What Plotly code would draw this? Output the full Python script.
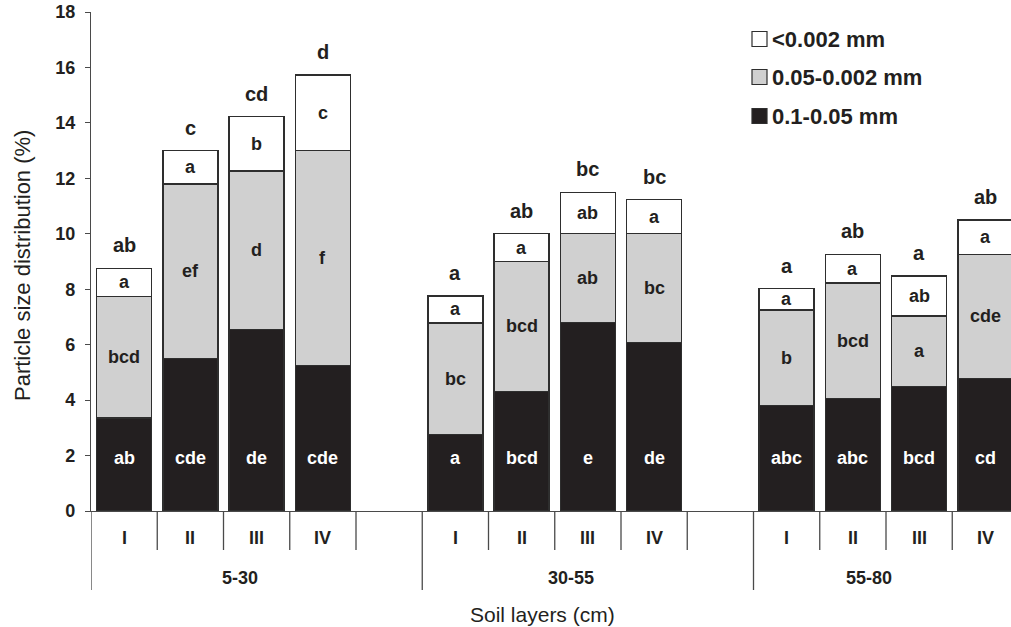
import plotly.graph_objects as go

# ---------------- data ----------------
groups = ["5-30", "30-55", "55-80"]
treatments = ["I", "II", "III", "IV"]

# 0.1-0.05 mm (black)
sand = [3.35, 5.50, 6.55, 5.25, 2.77, 4.32, 6.80, 6.07, 3.80, 4.05, 4.50, 4.78]
# 0.05-0.002 mm (grey)
silt = [4.40, 6.30, 5.72, 7.75, 4.01, 4.68, 3.20, 3.93, 3.45, 4.17, 2.53, 4.48]
# <0.002 mm (white)
clay = [1.00, 1.20, 1.96, 2.73, 0.98, 1.00, 1.50, 1.23, 0.77, 1.04, 1.45, 1.24]

sand_letters = ["ab", "cde", "de", "cde", "a", "bcd", "e", "de", "abc", "abc", "bcd", "cd"]
silt_letters = ["bcd", "ef", "d", "f", "bc", "bcd", "ab", "bc", "b", "bcd", "a", "cde"]
clay_letters = ["a", "a", "b", "c", "a", "a", "ab", "a", "a", "a", "ab", "a"]
total_letters = ["ab", "c", "cd", "d", "a", "ab", "bc", "bc", "a", "ab", "a", "ab"]

y_ticks = [0, 2, 4, 6, 8, 10, 12, 14, 16, 18]

# ---------------- layout constants ----------------
W, H = 1011, 627
L, R, T, B = 91, 0, 12, 116
PW, PH = W - L - R, H - T - B
SLOT = 66.25
X0 = -0.5
X1 = X0 + PW / SLOT

INK = "#231f20"
AX = "#4a4a4a"
FONT = "Liberation Sans, Arial, sans-serif"


def pxx(X):
    return (X - L) / PW


def pxy(Y):
    return (T + PH - Y) / PH


xs = [g * 5 + t for g in range(len(groups)) for t in range(len(treatments))]

fig = go.Figure()
line = dict(color="#2e2e2e", width=1.3)
fig.add_trace(go.Bar(x=xs, y=sand, name="0.1-0.05 mm", width=0.83,
                     marker=dict(color=INK, line=line), showlegend=False))
fig.add_trace(go.Bar(x=xs, y=silt, name="0.05-0.002 mm", width=0.83,
                     marker=dict(color="#d0d0d0", line=line), showlegend=False))
fig.add_trace(go.Bar(x=xs, y=clay, name="<0.002 mm", width=0.83,
                     marker=dict(color="#ffffff", line=line), showlegend=False))

ann = []
bold = dict(family=FONT, size=18, color=INK, weight="bold")
C = dict(showarrow=False, xanchor="center", yanchor="middle")
for i, x in enumerate(xs):
    s, m, c = sand[i], silt[i], clay[i]
    ann.append(dict(x=x, y=1.92, text=sand_letters[i], **C,
                    font=dict(family=FONT, size=18, color="white", weight="bold")))
    ann.append(dict(x=x, y=s + m / 2, text=silt_letters[i], font=bold, **C))
    ann.append(dict(x=x, y=s + m + c / 2, text=clay_letters[i], font=bold, **C))
    ann.append(dict(x=x, y=s + m + c, text=total_letters[i], showarrow=False,
                    xanchor="center", yanchor="bottom", yshift=10,
                    font=dict(family=FONT, size=20, color=INK, weight="bold")))

# category axis labels
roman_y = pxy(538)
group_y = pxy(578)
for g in range(len(groups)):
    for t, lab in enumerate(treatments):
        ann.append(dict(x=g * 5 + t, y=roman_y, xref="x", yref="paper", text=lab,
                        font=bold, **C))
group_x = [1.75, 6.75, 11.25]
for g, lab in enumerate(groups):
    ann.append(dict(x=group_x[g], y=group_y, xref="x", yref="paper", text=lab,
                    font=bold, **C))

# axis titles
ann.append(dict(x=pxx(22), y=pxy(266), xref="paper", yref="paper",
                text="Particle size distribution (%)", textangle=-90, **C,
                font=dict(family=FONT, size=22, color=INK)))
ann.append(dict(x=pxx(542), y=pxy(614), xref="paper", yref="paper",
                text="Soil layers (cm)", **C,
                font=dict(family=FONT, size=21, color=INK)))

shapes = []
# dividers for category axis
for k in range(16):
    xd = k - 0.5
    if xd > X1:
        break
    long_ = (k % 5 == 0)
    shapes.append(dict(type="line", xref="x", yref="paper", x0=xd, x1=xd,
                       y0=0, y1=pxy(590) if long_ else pxy(550),
                       line=dict(color=AX, width=1.3)))

# manual legend
legend_rows = [("<0.002 mm", "#ffffff", 39), ("0.05-0.002 mm", "#d0d0d0", 77),
               ("0.1-0.05 mm", INK, 116)]
for lab, col, yc in legend_rows:
    shapes.append(dict(type="rect", xref="paper", yref="paper",
                       x0=pxx(752), x1=pxx(767), y0=pxy(yc + 7.5), y1=pxy(yc - 7.5),
                       fillcolor=col, line=dict(color="#2e2e2e", width=1.2)))
    ann.append(dict(x=pxx(770), y=pxy(yc), xref="paper", yref="paper", text=lab,
                    xanchor="left", yanchor="middle", showarrow=False,
                    font=dict(family=FONT, size=22, color=INK, weight="bold")))

fig.update_layout(
    width=W, height=H,
    margin=dict(l=L, r=R, t=T, b=B, pad=0),
    barmode="stack",
    plot_bgcolor="white", paper_bgcolor="white",
    annotations=ann, shapes=shapes,
    showlegend=False,
    xaxis=dict(range=[X0, X1], showticklabels=False, showgrid=False, zeroline=False,
               showline=True, linecolor=AX, linewidth=1.3, ticks=""),
    yaxis=dict(range=[0, 18], tickvals=y_ticks, showgrid=False, zeroline=False,
               showline=True, linecolor=AX, linewidth=1.3, ticks="outside",
               ticklen=5, tickwidth=1.3, tickcolor=AX, ticklabelstandoff=6,
               tickfont=dict(family=FONT, size=18, color=INK, weight="bold")),
)

fig.write_html("out.html", config={"displayModeBar": False},
               post_script="document.body.style.margin='0';document.body.style.overflow='hidden';")
